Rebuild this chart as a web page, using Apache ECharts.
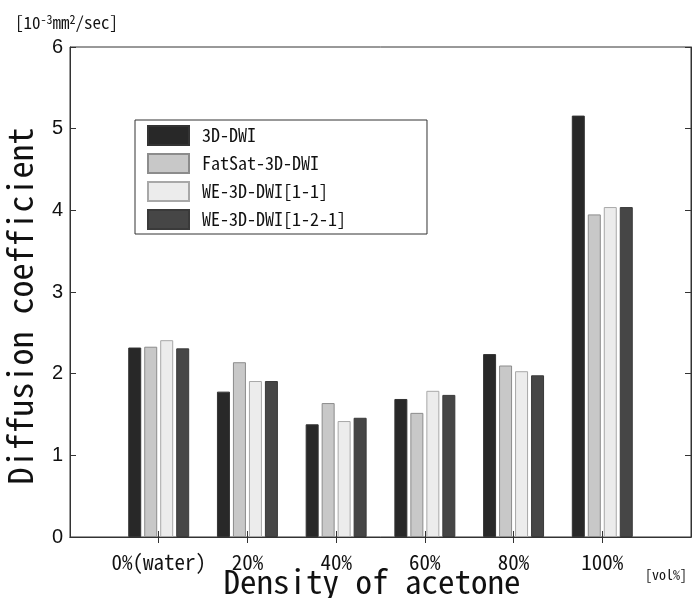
<!DOCTYPE html>
<html>
<head>
<meta charset="utf-8">
<script src="https://cdn.jsdelivr.net/npm/echarts@6/dist/echarts.min.js"></script>
<style>html,body{margin:0;padding:0;background:#fff}#c{width:692px;height:598px}</style>
</head>
<body>
<div id="c"></div>
<script>
var categories = ['0%(water)', '20%', '40%', '60%', '80%', '100%'];
var seriesNames = ['3D-DWI', 'FatSat-3D-DWI', 'WE-3D-DWI[1-1]', 'WE-3D-DWI[1-2-1]'];
var dwi3d      = [2.32, 1.78, 1.38, 1.69, 2.24, 5.16];
var fatsat     = [2.33, 2.14, 1.64, 1.52, 2.10, 3.95];
var we11       = [2.41, 1.91, 1.42, 1.79, 2.03, 4.04];
var we121      = [2.31, 1.91, 1.46, 1.74, 1.98, 4.04];
var yTicks = [0, 1, 2, 3, 4, 5, 6];

var FONT = '"Noto Sans Mono CJK JP", "DejaVu Sans Mono", monospace';
var fills = ['#282828', '#c8c8c8', '#ececec', '#464646'];
var borders = ['#333333', '#8c8c8c', '#a8a8a8', '#3a3a3a'];
var allData = [dwi3d, fatsat, we11, we121];

var xCats = [''].concat(categories).concat(['']);
function pad(a) { return [null].concat(a).concat([null]); }
var tickOn = function (i) { return i > 0 && i < xCats.length - 1; };

var chart = echarts.init(document.getElementById('c'), null, {renderer: 'canvas'});
var series = seriesNames.map(function (n, i) {
  return {
    name: n, type: 'bar', data: pad(allData[i]), barWidth: 13, barGap: '23%',
    itemStyle: {color: fills[i], borderColor: borders[i], borderWidth: 1},
    emphasis: {disabled: true}
  };
});
chart.setOption({
  animation: false,
  grid: {left: 70, right: 1, top: 47, bottom: 61, show: true, borderColor: '#333', borderWidth: 1,
         containLabel: false, outerBoundsMode: 'none'},
  legend: {
    orient: 'vertical', left: 135, top: 120, data: seriesNames,
    itemWidth: 41, itemHeight: 19, itemGap: 7,
    padding: [5, 81, 4, 12],
    borderColor: '#333', borderWidth: 1, backgroundColor: '#fff',
    icon: 'rect',
    textStyle: {fontFamily: FONT, fontSize: 18, color: '#111', lineHeight: 19, padding: [0, 0, 0, 8]}
  },
  xAxis: [{
    type: 'category', data: xCats, boundaryGap: false,
    axisLine: {lineStyle: {color: '#333', width: 1}},
    axisTick: {inside: true, length: 6, interval: tickOn, lineStyle: {color: '#333'}},
    axisLabel: {interval: 0, margin: 15, fontFamily: FONT, fontSize: 21, color: '#111'},
    name: 'Density of acetone', nameLocation: 'middle', nameGap: 28, nameMoveOverlap: false,
    nameTextStyle: {fontFamily: FONT, fontSize: 33, color: '#111', padding: [0, 17, 0, 0]}
  }, {
    type: 'category', data: xCats, boundaryGap: false, position: 'top',
    axisLine: {show: true, lineStyle: {color: '#333'}},
    axisTick: {inside: true, length: 6, interval: tickOn, lineStyle: {color: '#333'}},
    axisLabel: {show: false}
  }],
  yAxis: [{
    type: 'value', min: yTicks[0], max: yTicks[yTicks.length - 1], interval: 1,
    axisLine: {show: true, lineStyle: {color: '#333'}},
    axisTick: {show: true, inside: true, length: 6, lineStyle: {color: '#333'}},
    splitLine: {show: false},
    axisLabel: {margin: 7, fontFamily: 'Liberation Sans', fontSize: 20, color: '#111'},
    name: 'Diffusion coefficient', nameLocation: 'middle', nameGap: 33, nameRotate: 90, nameMoveOverlap: false,
    nameTextStyle: {fontFamily: FONT, fontSize: 34, color: '#111', padding: [0, 28, 0, 0]}
  }, {
    type: 'value', min: yTicks[0], max: yTicks[yTicks.length - 1], interval: 1, position: 'right',
    axisLine: {show: true, lineStyle: {color: '#333'}},
    axisTick: {show: true, inside: true, length: 6, lineStyle: {color: '#333'}},
    splitLine: {show: false}, axisLabel: {show: false}
  }],
  graphic: [{
    type: 'text', left: 15, top: 13,
    style: {
      text: '[10{s|-3}mm{s|2}/sec]', fontFamily: FONT, fontSize: 17, fill: '#111',
      rich: {s: {fontFamily: FONT, fontSize: 12, verticalAlign: 'top', padding: [0, 0, 8, 0]}}
    }
  }, {
    type: 'text', left: 645, top: 568,
    style: {text: '[vol%]', fontFamily: FONT, fontSize: 14, fill: '#111'}
  }],
  series: series
});
</script>
</body>
</html>
